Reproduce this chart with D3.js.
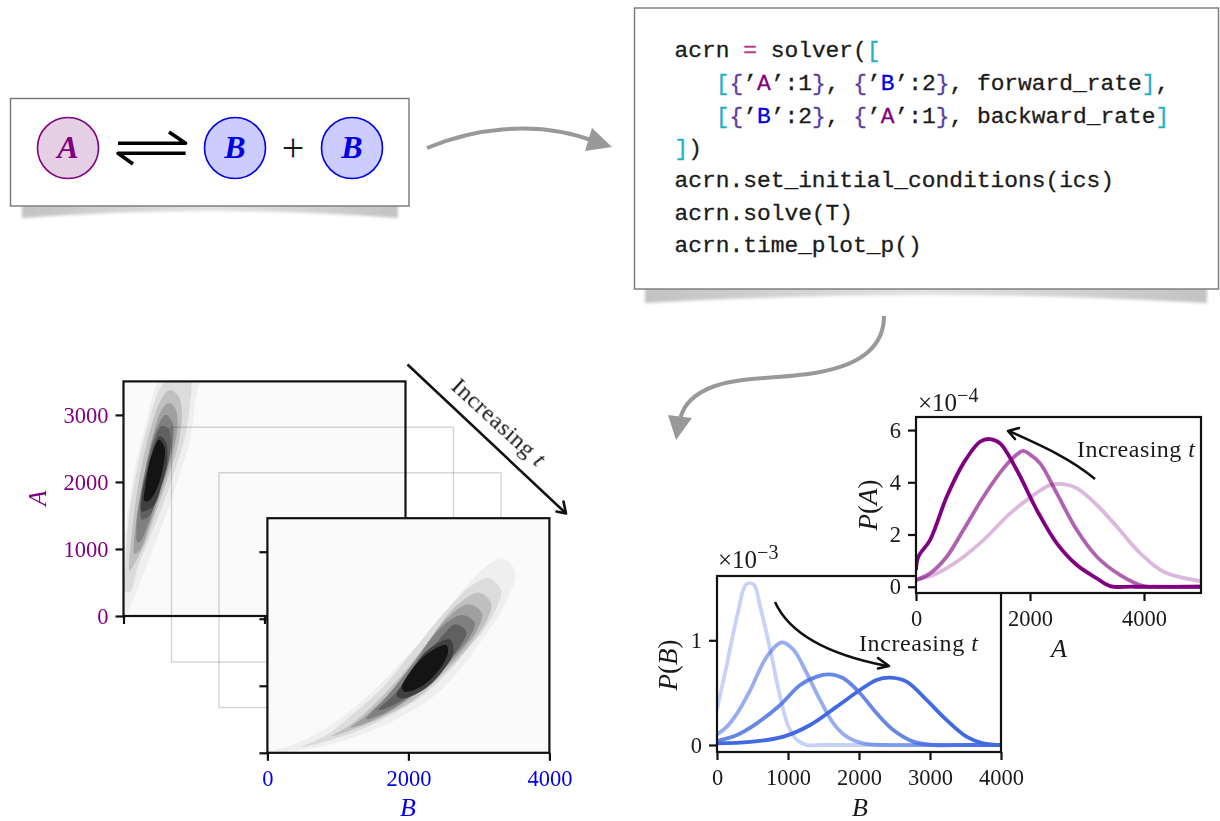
<!DOCTYPE html>
<html><head><meta charset="utf-8">
<script src="https://cdn.jsdelivr.net/npm/d3@7"></script>
<style>
html,body{margin:0;padding:0;background:#fff;overflow:hidden}
svg{display:block;filter:blur(0.6px)}
text{font-family:"Liberation Serif",serif;fill:#1a1a1a}
</style></head><body>
<svg id="fig" width="1220" height="821"></svg>
<script>
// ---------- data ----------
const contourShades = ["#efefef","#dcdcdc","#c0c0c0","#a0a0a0","#808080","#606060","#404040","#141414"];

// contour outlines of P(B,A), early time: [B, A]
const earlyContours = [
 [[756,3800],[1063,3675],[1015,3177],[945,2629],[803,2131],[661,1683],[472,1135],[283,637],[118,189],[24,25],[9,837],[47,1434],[165,2231],[307,2829],[472,3451]],
 [[756,3675],[945,3526],[945,3177],[874,2679],[732,2181],[567,1683],[378,1185],[189,687],[104,373],[24,364],[28,837],[71,1434],[189,2181],[354,2878],[520,3401]],
 [[638,3366],[765,3302],[827,3078],[779,2580],[638,2082],[472,1584],[283,1036],[118,712],[85,677],[118,1235],[213,1982],[354,2679],[520,3202]],
 [[647,3177],[742,3078],[765,2829],[685,2380],[543,1882],[378,1384],[236,986],[156,926],[165,1285],[260,1932],[401,2629],[543,3078]],
 [[600,3003],[699,2878],[708,2679],[638,2281],[496,1833],[354,1384],[236,1111],[198,1096],[189,1434],[283,2032],[401,2580],[520,2903]],
 [[535,2830],[640,2800],[665,2530],[610,2181],[490,1800],[370,1500],[260,1440],[245,1733],[335,2231],[435,2629]],
 [[510,2680],[600,2600],[620,2331],[545,1982],[430,1650],[262,1560],[275,1882],[385,2331]],
 [[505,2630],[585,2505],[580,2331],[510,2007],[430,1810],[354,1715],[295,1720],[310,1932],[390,2380]]
];
// contour outlines of P(B,A), late time: [B, A]
const lateContours = [
 [[3304,2898],[3446,2828],[3517,2660],[3399,2281],[3210,1932],[2973,1584],[2689,1185],[2358,837],[1979,588],[1505,339],[937,139],[369,30],[14,5],[464,164],[937,438],[1411,837],[1884,1335],[2358,1882],[2736,2380],[3020,2704]],
 [[3139,2605],[3314,2430],[3257,2181],[3068,1833],[2831,1534],[2547,1185],[2216,862],[1789,588],[1363,364],[890,189],[488,90],[843,264],[1221,588],[1647,986],[2073,1534],[2500,2082],[2878,2480]],
 [[2997,2390],[3172,2231],[3115,1982],[2926,1683],[2689,1384],[2405,1086],[2073,787],[1695,563],[1316,388],[914,249],[1174,413],[1505,712],[1884,1135],[2263,1633],[2642,2156]],
 [[2855,2216],[3044,2082],[2973,1833],[2784,1559],[2547,1285],[2216,986],[1884,712],[1505,488],[1183,378],[1434,588],[1789,961],[2168,1484],[2547,2007]],
 [[2760,2057],[2940,1942],[2855,1708],[2642,1434],[2358,1135],[2026,837],[1695,613],[1397,503],[1695,837],[2073,1335],[2452,1858]],
 [[2665,1917],[2821,1808],[2713,1559],[2452,1260],[2121,936],[1789,712],[1576,637],[1837,911],[2168,1335],[2452,1708]],
 [[2585,1690],[2640,1509],[2500,1240],[2240,960],[1925,810],[1835,850],[2000,1150],[2270,1530]],
 [[2537,1609],[2560,1484],[2452,1260],[2216,1011],[1955,911],[1908,971],[2026,1210],[2263,1474]]
];

const heatXTicks = [0,2000,4000];
const heatYTicks = [0,1000,2000,3000];

// P(B) marginals (units of 1e-3) at four times
const pbX1 = [0,117,290,412,515,609,749,890,1007,1124,1265,1500,2000,3000,4000];
const pbY1 = [.34,.70,1.25,1.535,1.535,1.32,.91,.46,.175,.05,0,0,0,0,0];
const pbX2 = [0,117,281,468,703,913,1077,1265,1452,1639,1827,2061,2342,3000,4000];
const pbY2 = [.10,.16,.30,.525,.845,.98,.91,.685,.43,.207,.08,.016,0,0,0];
const pbX3 = [0,281,562,890,1171,1405,1569,1780,2014,2248,2483,2764,3045,3500,4000];
const pbY3 = [.038,.096,.207,.382,.573,.653,.675,.637,.494,.303,.143,.032,0,0,0];
const pbX4 = [0,468,937,1312,1686,2014,2248,2436,2670,2951,3232,3513,3747,4000];
const pbY4 = [.016,.029,.08,.191,.366,.525,.621,.643,.605,.43,.239,.08,.016,0];
const pbOpacity = [.3,.55,.8,1];
const pbXTicks = [0,1000,2000,3000,4000];
const pbYTicks = [0,1];

// P(A) marginals (units of 1e-4) at three times
const paX1 = [0,304,714,1183,1651,2061,2354,2588,2822,3173,3525,3935,4344,5000];
const paY1 = [.255,.447,.957,1.787,2.81,3.51,3.89,3.93,3.77,3.13,2.30,1.28,.574,.217];
const paX2 = [0,246,539,831,1183,1534,1780,1873,1990,2178,2471,2822,3173,3583,3993,4227,5000];
const paY2 = [.255,.511,1.149,2.17,3.447,4.532,5.08,5.2,5.08,4.724,3.574,2.17,1.149,.447,.026,0,0];
const paX3 = [0,41,246,539,831,1124,1300,1475,1768,2120,2471,2822,3173,3407,3817,5000];
const paY3 = [.64,1.149,1.787,3.447,4.724,5.553,5.655,5.49,4.47,2.936,1.66,.83,.319,.026,0,0];
const paOpacity = [.28,.62,1];
const paXTicks = [0,2000,4000];
const paYTicks = [0,2,4,6];

const CYAN="#1fb2c4", BRACE="#5b3f9e", PUR="#800080", BLU="#0000e6", EQ="#b5307f", INK="#1a1a1a";
const codeLines = [
 [["acrn ",INK],["=",EQ],[" solver(",INK],["[",CYAN]],
 [["   ",INK],["[",CYAN],["{",BRACE],["’",INK],["A",PUR],["’",INK],[":1",INK],["}",BRACE],[", ",INK],["{",BRACE],["’",INK],["B",BLU],["’",INK],[":2",INK],["}",BRACE],[", forward_rate",INK],["]",CYAN],[",",INK]],
 [["   ",INK],["[",CYAN],["{",BRACE],["’",INK],["B",BLU],["’",INK],[":2",INK],["}",BRACE],[", ",INK],["{",BRACE],["’",INK],["A",PUR],["’",INK],[":1",INK],["}",BRACE],[", backward_rate",INK],["]",CYAN]],
 [["]",CYAN],[")",INK]],
 [["acrn.set_initial_conditions(ics)",INK]],
 [["acrn.solve(T)",INK]],
 [["acrn.time_plot_p()",INK]]
];
const codeBaselines = [57.3,90,122.7,155,187.3,219.5,251.7];

// ---------- drawing ----------
const svg = d3.select("#fig");
const defs = svg.append("defs");
defs.append("filter").attr("id","soft").attr("x","-5%").attr("y","-100%").attr("width","110%").attr("height","300%")
  .append("feGaussianBlur").attr("stdDeviation",1.4);
const shadowGrad=defs.append("linearGradient").attr("id","shade");
[[0,"#c2c2c2"],[.5,"#e2e2e2"],[1,"#c2c2c2"]].forEach(([o,c])=>shadowGrad.append("stop").attr("offset",o).attr("stop-color",c));
const zip = (xs,ys)=>xs.map((x,i)=>[x,ys[i]]);
let clipN=0;
function clip(x,y,w,h){const id="c"+(clipN++);defs.append("clipPath").attr("id",id).append("rect").attr("x",x).attr("y",y).attr("width",w).attr("height",h);return `url(#${id})`;}

function italicLabel(g,x,y,parts,size,color,rot){
  const t=g.append("text").attr("transform",`translate(${x},${y})`+(rot?` rotate(${rot})`:""))
    .attr("text-anchor","middle").style("font-size",size+"px").style("fill",color);
  parts.forEach(([s,it])=>t.append("tspan").text(s).style("font-style",it?"italic":"normal").style("fill",color));
  return t;
}
function increasing(g,x,y,len,rot){
  const t=g.append("text").attr("transform",`translate(${x},${y})`+(rot?` rotate(${rot})`:""))
    .style("font-size","24px").attr("textLength",len);
  t.append("tspan").text("Increasing ");
  t.append("tspan").text("t").style("font-style","italic");
}
function styleAxis(a,color,size=22.5){
  a.select(".domain").remove();
  a.selectAll(".tick line").attr("stroke","#111").attr("stroke-width",2.2);
  a.selectAll(".tick text").style("font-size",size+"px").style("fill",color).style("font-family","Liberation Serif");
}
function openHead(g,pts,w=2.6){
  g.append("path").attr("d",d3.line()(pts)).attr("fill","none").attr("stroke","#111").attr("stroke-width",w).attr("stroke-linecap","round").attr("stroke-linejoin","round");
}

// reaction box
const rx=svg.append("g");
rx.append("path").attr("d","M22,205 L398,205 L398,218 Q210,204 22,218 Z").attr("fill","url(#shade)").attr("filter","url(#soft)");
rx.append("rect").attr("x",10.5).attr("y",98.5).attr("width",398.5).attr("height",107.5).attr("fill","#fff").attr("stroke","#777").attr("stroke-width",1.4);
[[68,"A","#e5cfe5",PUR],[235,"B","#ccccff",BLU],[352,"B","#ccccff",BLU]].forEach(([cx,s,f,c])=>{
  rx.append("circle").attr("cx",cx).attr("cy",148).attr("r",30.5).attr("fill",f).attr("stroke",c).attr("stroke-width",1.6);
  rx.append("text").attr("x",cx).attr("y",158).attr("text-anchor","middle").text(s)
    .style("font-size","32px").style("font-style","italic").style("font-weight","bold").style("fill",c);
});
rx.append("path").attr("d","M118,143.3 H185.6 L169,132 M185.6,153.3 H118 L133,164").attr("fill","none").attr("stroke","#000").attr("stroke-width",3.6).attr("stroke-linejoin","round");
rx.append("text").attr("x",293).attr("y",161).attr("text-anchor","middle").text("+").style("font-size","40px");

// code box
const cb=svg.append("g");
cb.append("path").attr("d","M645,288 L1207,288 L1207,303 Q926,287 645,303 Z").attr("fill","url(#shade)").attr("filter","url(#soft)");
cb.append("rect").attr("x",634.5).attr("y",8).attr("width",584).attr("height",281).attr("fill","#fff").attr("stroke","#777").attr("stroke-width",1.4);
codeLines.forEach((line,i)=>{
  const t=cb.append("text").attr("x",674.5).attr("y",codeBaselines[i]).attr("xml:space","preserve")
    .style("font-family","Liberation Mono").style("font-size","22.9px").style("white-space","pre");
  line.forEach(([s,c])=>t.append("tspan").text(s).style("fill",c).style("font-family","Liberation Mono").style("stroke",c).style("stroke-width",.3));
});

// grey flow arrows
const flow=svg.append("g");
flow.append("path").attr("d","M427,148 C470,130 535,118 596,142").attr("fill","none").attr("stroke","#999").attr("stroke-width",4);
flow.append("path").attr("d","M612,147 L592,128 L585,151 Z").attr("fill","#999");
flow.append("path").attr("d","M884,316 C884,352 852,366 820,372 C785,379 745,376 715,386 C695,393 683,404 680,420").attr("fill","none").attr("stroke","#999").attr("stroke-width",4);
flow.append("path").attr("d","M676,440 L668,415 L692,418 Z").attr("fill","#999");

// contour stack
const heatW=[0,4000], heatH=[0,3500];
function contourPanel(left,top,contours,showY,showX){
  const x=d3.scaleLinear().domain(heatW).range([left,left+282]);
  const y=d3.scaleLinear().domain(heatH).range([top+234.6,top]);
  const g=svg.append("g");
  g.append("rect").attr("x",left).attr("y",top).attr("width",282).attr("height",234.6).attr("fill","#fafafa");
  const cg=g.append("g").attr("clip-path",clip(left,top,282,234.6));
  const path=d3.line().x(d=>x(d[0])).y(d=>y(d[1])).curve(d3.curveCatmullRomClosed.alpha(.5));
  contours.forEach((c,i)=>cg.append("path").attr("d",path(c)).attr("fill",contourShades[i]));
  g.append("rect").attr("x",left).attr("y",top).attr("width",282).attr("height",234.6).attr("fill","none").attr("stroke","#111").attr("stroke-width",2.2);
  const ax=g.append("g").attr("transform",`translate(0,${top+234.6})`).call(d3.axisBottom(x).tickValues(heatXTicks).tickSize(8).tickPadding(9).tickFormat(showX?d3.format("d"):""));
  styleAxis(ax,BLU);
  const ay=g.append("g").attr("transform",`translate(${left},0)`).call(d3.axisLeft(y).tickValues(heatYTicks).tickSize(8).tickPadding(7).tickFormat(showY?d3.format("d"):""));
  styleAxis(ay,PUR);
  return g;
}
contourPanel(123.5,381.4,earlyContours,true,false);
// ghost frames of the intermediate times
[[171.5,427.2],[219,472.8]].forEach(([l,t])=>{
  svg.append("rect").attr("x",l).attr("y",t).attr("width",282).attr("height",234.8).attr("fill","none").attr("stroke","#000").attr("stroke-opacity",.17).attr("stroke-width",1.4);
});
contourPanel(267.4,518.2,lateContours,false,true);
italicLabel(svg,46,498,[["A",true]],25,PUR,-90);
italicLabel(svg,408,816,[["B",true]],26,BLU);

// long arrow
const la=svg.append("g");
la.append("path").attr("d","M407.5,364.5 L565,512.5").attr("stroke","#111").attr("stroke-width",2.6);
openHead(la,[[556.5,511.5],[566,513.5],[563.5,501.5]]);
increasing(la,450,388,118,42.5);

// P(B)
{
  const L=717,R=1001,T=576,B=752;
  const x=d3.scaleLinear().domain([0,4000]).range([L,R]);
  const y=d3.scaleLinear().domain([-.067,1.614]).range([B,T]);
  const g=svg.append("g");
  g.append("rect").attr("x",L).attr("y",T).attr("width",R-L).attr("height",B-T).attr("fill","#fff");
  const line=d3.line().x(d=>x(d[0])).y(d=>y(d[1])).curve(d3.curveCatmullRom.alpha(.5));
  const cg=g.append("g").attr("clip-path",clip(L,T,R-L,B-T));
  [zip(pbX1,pbY1),zip(pbX2,pbY2),zip(pbX3,pbY3),zip(pbX4,pbY4)].forEach((s,i)=>
    cg.append("path").attr("d",line(s)).attr("fill","none").attr("stroke","#4169e1").attr("stroke-opacity",pbOpacity[i]).attr("stroke-width",3.8));
  g.append("rect").attr("x",L).attr("y",T).attr("width",R-L).attr("height",B-T).attr("fill","none").attr("stroke","#111").attr("stroke-width",2.2);
  styleAxis(g.append("g").attr("transform",`translate(0,${B})`).call(d3.axisBottom(x).tickValues(pbXTicks).tickSize(8).tickPadding(9).tickFormat(d3.format("d"))),INK);
  styleAxis(g.append("g").attr("transform",`translate(${L},0)`).call(d3.axisLeft(y).tickValues(pbYTicks).tickSize(8).tickPadding(7).tickFormat(d3.format("d"))),INK);
  italicLabel(g,860,816,[["B",true]],26,INK);
  italicLabel(g,677,665,[["P",true],["(",false],["B",true],[")",false]],27,INK,-90);
  const m=g.append("text").attr("x",718).attr("y",568).style("font-size","25px");
  m.append("tspan").text("×10"); m.append("tspan").text("−3").attr("dy",-9).style("font-size","20px");
  g.append("path").attr("d","M775,602 C790,635 830,655 887,666").attr("fill","none").attr("stroke","#111").attr("stroke-width",2.6);
  openHead(g,[[878,658],[889,666],[878,668.5]]);
  increasing(g,859,651,119);
}

// P(A)
{
  const L=916,R=1201,T=417,B=593;
  const x=d3.scaleLinear().domain([0,5000]).range([L,R]);
  const y=d3.scaleLinear().domain([-.24,6.5]).range([B,T]);
  const g=svg.append("g");
  g.append("rect").attr("x",L).attr("y",T).attr("width",R-L).attr("height",B-T).attr("fill","#fff");
  const line=d3.line().x(d=>x(d[0])).y(d=>y(d[1])).curve(d3.curveCatmullRom.alpha(.5));
  const cg=g.append("g").attr("clip-path",clip(L,T,R-L,B-T));
  [zip(paX1,paY1),zip(paX2,paY2),zip(paX3,paY3)].forEach((s,i)=>
    cg.append("path").attr("d",line(s)).attr("fill","none").attr("stroke",PUR).attr("stroke-opacity",paOpacity[i]).attr("stroke-width",3.8));
  g.append("rect").attr("x",L).attr("y",T).attr("width",R-L).attr("height",B-T).attr("fill","none").attr("stroke","#111").attr("stroke-width",2.2);
  styleAxis(g.append("g").attr("transform",`translate(0,${B})`).call(d3.axisBottom(x).tickValues(paXTicks).tickSize(8).tickPadding(9).tickFormat(d3.format("d"))),INK);
  styleAxis(g.append("g").attr("transform",`translate(${L},0)`).call(d3.axisLeft(y).tickValues(paYTicks).tickSize(8).tickPadding(7).tickFormat(d3.format("d"))),INK);
  italicLabel(g,1059,657,[["A",true]],26,INK);
  italicLabel(g,877,505,[["P",true],["(",false],["A",true],[")",false]],27,INK,-90);
  const m=g.append("text").attr("x",918).attr("y",410.5).style("font-size","25px");
  m.append("tspan").text("×10"); m.append("tspan").text("−4").attr("dy",-9).style("font-size","20px");
  g.append("path").attr("d","M1095,479 C1070,458 1040,445 1009,431").attr("fill","none").attr("stroke","#111").attr("stroke-width",2.6);
  openHead(g,[[1019,428],[1008,431],[1015,439]]);
  increasing(g,1077,457,118);
}
</script>
</body></html>
